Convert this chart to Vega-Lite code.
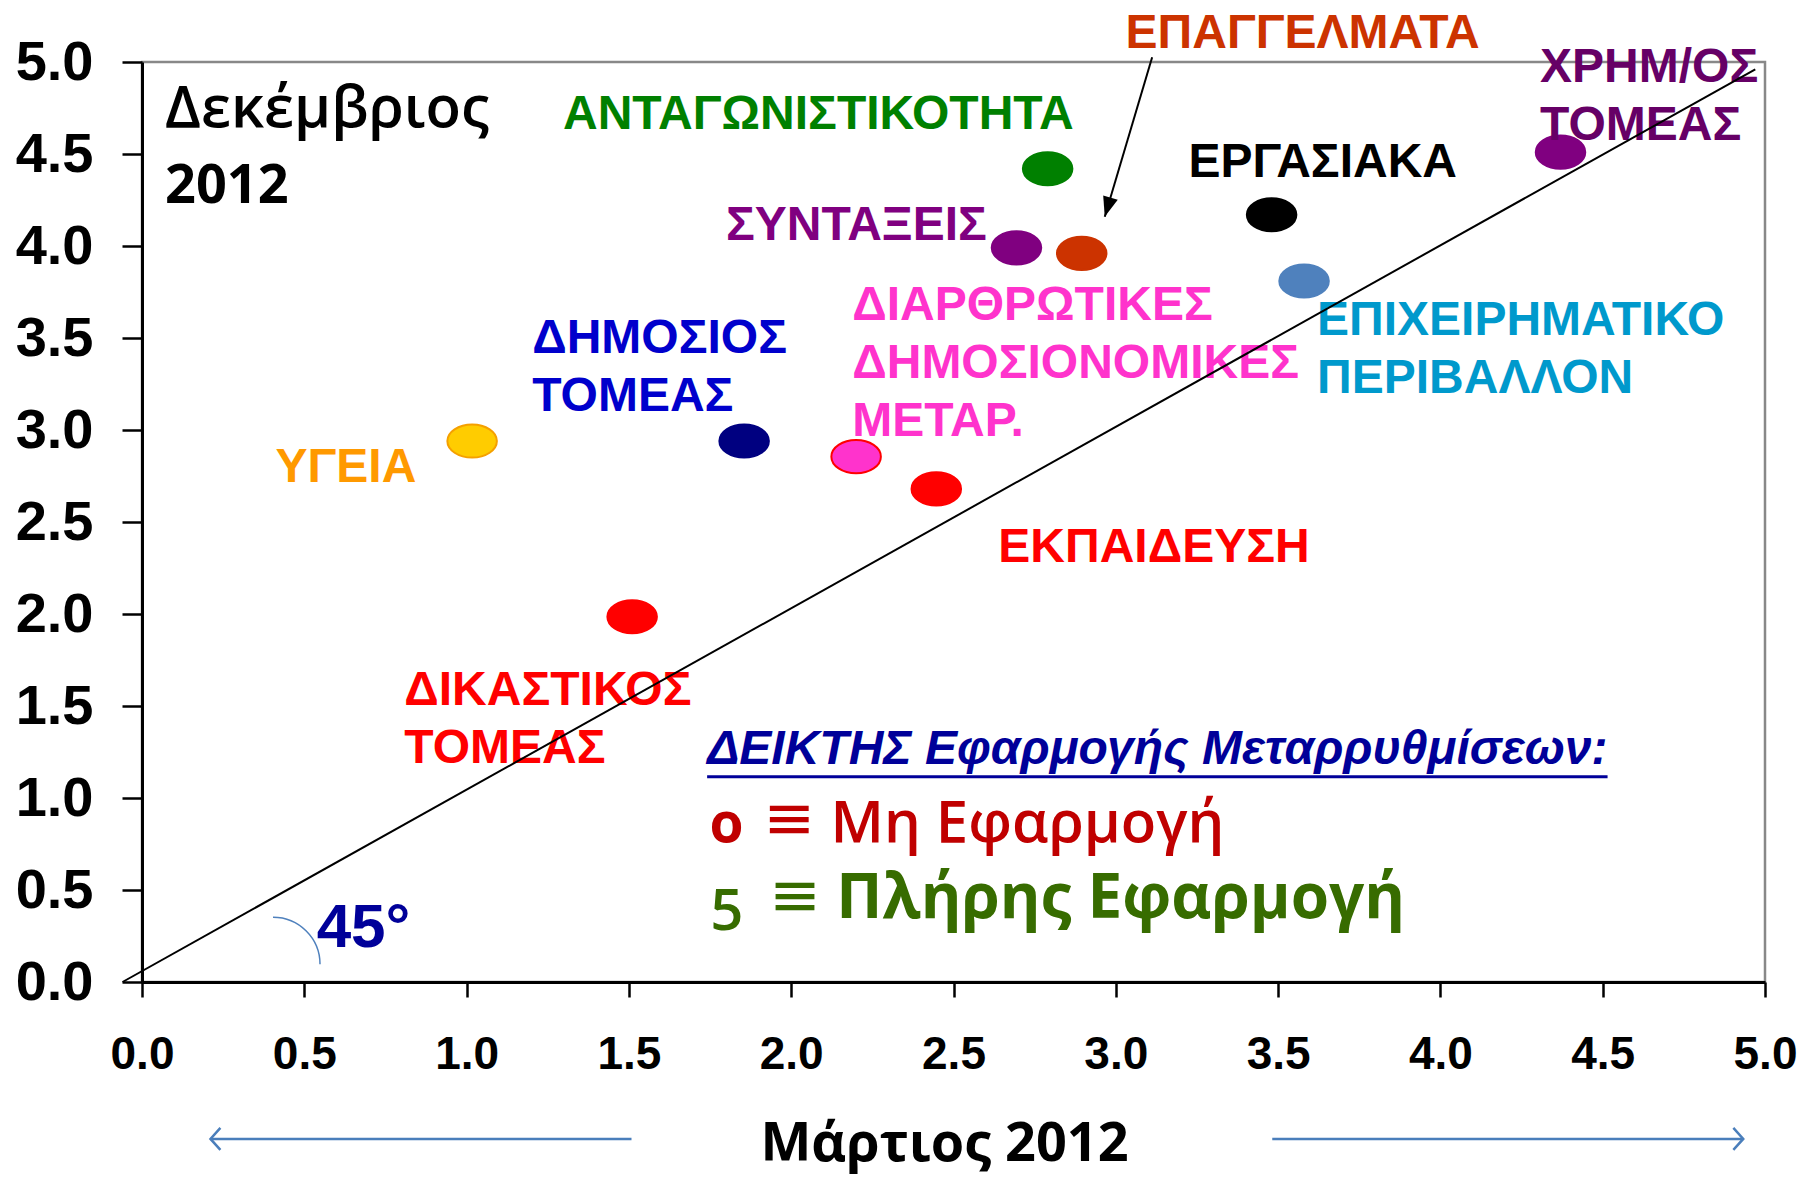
{
  "$schema": "https://vega.github.io/schema/vega-lite/v6.json",
  "width": 1623,
  "height": 920,
  "autosize": "none",
  "padding": {"left": 142, "top": 62, "right": 35, "bottom": 196},
  "background": "white",
  "datasets": {
    "pts": [
      {"name": "ΑΝΤΑΓΩΝΙΣΤΙΚΟΤΗΤΑ", "x": 2.79, "y": 4.42, "label": "ΑΝΤΑΓΩΝΙΣΤΙΚΟΤΗΤΑ", "lx": 1.297, "ly": 4.636},
      {"name": "ΕΠΑΓΓΕΛΜΑΤΑ", "x": 2.895, "y": 3.96, "label": "ΕΠΑΓΓΕΛΜΑΤΑ", "lx": 3.03, "ly": 5.075},
      {"name": "ΧΡΗΜ/ΟΣ ΤΟΜΕΑΣ", "x": 4.37, "y": 4.51, "label": "ΧΡΗΜ/ΟΣ\nΤΟΜΕΑΣ", "lx": 4.307, "ly": 4.893},
      {"name": "ΕΡΓΑΣΙΑΚΑ", "x": 3.48, "y": 4.17, "label": "ΕΡΓΑΣΙΑΚΑ", "lx": 3.224, "ly": 4.375},
      {"name": "ΣΥΝΤΑΞΕΙΣ", "x": 2.694, "y": 3.99, "label": "ΣΥΝΤΑΞΕΙΣ", "lx": 1.799, "ly": 4.033},
      {"name": "ΔΙΑΡΘΡΩΤΙΚΕΣ ΔΗΜΟΣΙΟΝΟΜΙΚΕΣ ΜΕΤΑΡ.", "x": 2.2, "y": 2.855, "label": "ΔΙΑΡΘΡΩΤΙΚΕΣ\nΔΗΜΟΣΙΟΝΟΜΙΚΕΣ\nΜΕΤΑΡ.", "lx": 2.188, "ly": 3.598},
      {"name": "ΕΠΙΧΕΙΡΗΜΑΤΙΚΟ ΠΕΡΙΒΑΛΛΟΝ", "x": 3.58, "y": 3.81, "label": "ΕΠΙΧΕΙΡΗΜΑΤΙΚΟ\nΠΕΡΙΒΑΛΛΟΝ", "lx": 3.62, "ly": 3.516},
      {"name": "ΔΗΜΟΣΙΟΣ ΤΟΜΕΑΣ", "x": 1.855, "y": 2.94, "label": "ΔΗΜΟΣΙΟΣ\nΤΟΜΕΑΣ", "lx": 1.202, "ly": 3.417},
      {"name": "ΥΓΕΙΑ", "x": 1.017, "y": 2.94, "label": "ΥΓΕΙΑ", "lx": 0.411, "ly": 2.719},
      {"name": "ΕΚΠΑΙΔΕΥΣΗ", "x": 2.447, "y": 2.68, "label": "ΕΚΠΑΙΔΕΥΣΗ", "lx": 2.638, "ly": 2.284},
      {"name": "ΔΙΚΑΣΤΙΚΟΣ ΤΟΜΕΑΣ", "x": 1.51, "y": 1.985, "label": "ΔΙΚΑΣΤΙΚΟΣ\nΤΟΜΕΑΣ", "lx": 0.808, "ly": 1.505}
    ]
  },
  "layer": [
    {
      "data": {"name": "pts"},
      "mark": {"type": "point", "shape": "M -1 0 A 1 0.67 0 1 1 1 0 A 1 0.67 0 1 1 -1 0 Z", "size": 2450, "filled": true, "strokeWidth": 2, "opacity": 1},
      "encoding": {
        "x": {"field": "x", "type": "quantitative", "scale": {"domain": [0, 5], "nice": false, "zero": false},
              "axis": {"values": [0, 0.5, 1, 1.5, 2, 2.5, 3, 3.5, 4, 4.5, 5], "format": ".1f", "title": "Μάρτιος 2012"}},
        "y": {"field": "y", "type": "quantitative", "scale": {"domain": [0, 5], "nice": false, "zero": false},
              "axis": {"values": [0, 0.5, 1, 1.5, 2, 2.5, 3, 3.5, 4, 4.5, 5], "format": ".1f", "title": null}},
        "fill": {"field": "name", "type": "nominal", "legend": null, "scale": {
          "domain": ["ΑΝΤΑΓΩΝΙΣΤΙΚΟΤΗΤΑ", "ΕΠΑΓΓΕΛΜΑΤΑ", "ΧΡΗΜ/ΟΣ ΤΟΜΕΑΣ", "ΕΡΓΑΣΙΑΚΑ", "ΣΥΝΤΑΞΕΙΣ", "ΔΙΑΡΘΡΩΤΙΚΕΣ ΔΗΜΟΣΙΟΝΟΜΙΚΕΣ ΜΕΤΑΡ.", "ΕΠΙΧΕΙΡΗΜΑΤΙΚΟ ΠΕΡΙΒΑΛΛΟΝ", "ΔΗΜΟΣΙΟΣ ΤΟΜΕΑΣ", "ΥΓΕΙΑ", "ΕΚΠΑΙΔΕΥΣΗ", "ΔΙΚΑΣΤΙΚΟΣ ΤΟΜΕΑΣ"],
          "range": ["#008000", "#CC3300", "#800080", "#000000", "#800080", "#FF33CC", "#4F81BD", "#000080", "#FFCC00", "#FF0000", "#FF0000"]}},
        "stroke": {"field": "name", "type": "nominal", "legend": null, "scale": {
          "domain": ["ΑΝΤΑΓΩΝΙΣΤΙΚΟΤΗΤΑ", "ΕΠΑΓΓΕΛΜΑΤΑ", "ΧΡΗΜ/ΟΣ ΤΟΜΕΑΣ", "ΕΡΓΑΣΙΑΚΑ", "ΣΥΝΤΑΞΕΙΣ", "ΔΙΑΡΘΡΩΤΙΚΕΣ ΔΗΜΟΣΙΟΝΟΜΙΚΕΣ ΜΕΤΑΡ.", "ΕΠΙΧΕΙΡΗΜΑΤΙΚΟ ΠΕΡΙΒΑΛΛΟΝ", "ΔΗΜΟΣΙΟΣ ΤΟΜΕΑΣ", "ΥΓΕΙΑ", "ΕΚΠΑΙΔΕΥΣΗ", "ΔΙΚΑΣΤΙΚΟΣ ΤΟΜΕΑΣ"],
          "range": ["#008000", "#CC3300", "#800080", "#000000", "#800080", "#FF0000", "#4F81BD", "#000080", "#F5A000", "#FF0000", "#FF0000"]}}
      }
    },
    {
      "data": {"name": "pts"},
      "mark": {"type": "text", "font": "Liberation Sans", "fontWeight": "bold", "fontSize": 48, "lineBreak": "\n", "lineHeight": 58, "align": "left", "baseline": "alphabetic"},
      "encoding": {
        "x": {"field": "lx", "type": "quantitative"},
        "y": {"field": "ly", "type": "quantitative"},
        "text": {"field": "label"},
        "color": {"field": "name", "type": "nominal", "legend": null, "scale": {
          "domain": ["ΑΝΤΑΓΩΝΙΣΤΙΚΟΤΗΤΑ", "ΕΠΑΓΓΕΛΜΑΤΑ", "ΧΡΗΜ/ΟΣ ΤΟΜΕΑΣ", "ΕΡΓΑΣΙΑΚΑ", "ΣΥΝΤΑΞΕΙΣ", "ΔΙΑΡΘΡΩΤΙΚΕΣ ΔΗΜΟΣΙΟΝΟΜΙΚΕΣ ΜΕΤΑΡ.", "ΕΠΙΧΕΙΡΗΜΑΤΙΚΟ ΠΕΡΙΒΑΛΛΟΝ", "ΔΗΜΟΣΙΟΣ ΤΟΜΕΑΣ", "ΥΓΕΙΑ", "ΕΚΠΑΙΔΕΥΣΗ", "ΔΙΚΑΣΤΙΚΟΣ ΤΟΜΕΑΣ"],
          "range": ["#008000", "#CC3300", "#660066", "#000000", "#800080", "#FF33CC", "#0099CC", "#0000CC", "#FF9900", "#FF0000", "#FF0000"]}}
      }
    },
    {
      "data": {"values": [{"t": "Δεκέμβριος", "x": 0.071, "y": 4.648}]},
      "mark": {"type": "text", "font": "Open Sans", "fontWeight": 600, "fontSize": 58, "align": "left", "baseline": "alphabetic", "color": "#000000"},
      "encoding": {"x": {"field": "x", "type": "quantitative"}, "y": {"field": "y", "type": "quantitative"}, "text": {"field": "t"}}
    },
    {
      "data": {"values": [{"t": "2012", "x": 0.071, "y": 4.232}]},
      "mark": {"type": "text", "font": "Open Sans", "fontWeight": "bold", "fontSize": 54, "align": "left", "baseline": "alphabetic", "color": "#000000"},
      "encoding": {"x": {"field": "x", "type": "quantitative"}, "y": {"field": "y", "type": "quantitative"}, "text": {"field": "t"}}
    },
    {
      "data": {"values": [{"t": "45°", "x": 0.538, "y": 0.192}]},
      "mark": {"type": "text", "font": "Liberation Sans", "fontWeight": "bold", "fontSize": 62, "align": "left", "baseline": "alphabetic", "color": "#000099"},
      "encoding": {"x": {"field": "x", "type": "quantitative"}, "y": {"field": "y", "type": "quantitative"}, "text": {"field": "t"}}
    },
    {
      "data": {"values": [{"t": "ΔΕΙΚΤΗΣ Εφαρμογής Μεταρρυθμίσεων:", "x": 1.741, "y": 1.185}]},
      "mark": {"type": "text", "font": "Liberation Sans", "fontWeight": "bold", "fontStyle": "italic", "fontSize": 48, "align": "left", "baseline": "alphabetic", "color": "#000099"},
      "encoding": {"x": {"field": "x", "type": "quantitative"}, "y": {"field": "y", "type": "quantitative"}, "text": {"field": "t"}}
    },
    {
      "data": {"values": [{"x": 1.741, "x2": 4.515, "y": 1.116}]},
      "mark": {"type": "rule", "color": "#000099", "strokeWidth": 3},
      "encoding": {"x": {"field": "x", "type": "quantitative"}, "x2": {"field": "x2"}, "y": {"field": "y", "type": "quantitative"}}
    },
    {
      "data": {"values": [{"t": "ο", "x": 1.748, "y": 0.7625}]},
      "mark": {"type": "text", "font": "Open Sans", "fontWeight": "bold", "fontSize": 55, "align": "left", "baseline": "alphabetic", "color": "#C00000"},
      "encoding": {"x": {"field": "x", "type": "quantitative"}, "y": {"field": "y", "type": "quantitative"}, "text": {"field": "t"}}
    },
    {
      "data": {"values": [{"t": "≡", "x": 1.995, "y": 0.88}]},
      "mark": {"type": "text", "font": "DejaVu Sans", "fontSize": 62, "align": "center", "baseline": "middle", "color": "#C00000"},
      "encoding": {"x": {"field": "x", "type": "quantitative"}, "y": {"field": "y", "type": "quantitative"}, "text": {"field": "t"}}
    },
    {
      "data": {"values": [{"t": "Μη Εφαρμογή", "x": 2.121, "y": 0.7625}]},
      "mark": {"type": "text", "font": "Open Sans", "fontWeight": 600, "fontSize": 58, "align": "left", "baseline": "alphabetic", "color": "#C00000"},
      "encoding": {"x": {"field": "x", "type": "quantitative"}, "y": {"field": "y", "type": "quantitative"}, "text": {"field": "t"}}
    },
    {
      "data": {"values": [{"t": "5", "x": 1.751, "y": 0.283}]},
      "mark": {"type": "text", "font": "Open Sans", "fontWeight": 600, "fontSize": 58, "align": "left", "baseline": "alphabetic", "color": "#376C00"},
      "encoding": {"x": {"field": "x", "type": "quantitative"}, "y": {"field": "y", "type": "quantitative"}, "text": {"field": "t"}}
    },
    {
      "data": {"values": [{"t": "≡", "x": 2.012, "y": 0.46}]},
      "mark": {"type": "text", "font": "DejaVu Sans", "fontSize": 62, "align": "center", "baseline": "middle", "color": "#376C00"},
      "encoding": {"x": {"field": "x", "type": "quantitative"}, "y": {"field": "y", "type": "quantitative"}, "text": {"field": "t"}}
    },
    {
      "data": {"values": [{"t": "Πλήρης Εφαρμογή", "x": 2.139, "y": 0.348}]},
      "mark": {"type": "text", "font": "Open Sans", "fontWeight": "bold", "fontSize": 62, "align": "left", "baseline": "alphabetic", "color": "#376C00"},
      "encoding": {"x": {"field": "x", "type": "quantitative"}, "y": {"field": "y", "type": "quantitative"}, "text": {"field": "t"}}
    },
    {
      "data": {"values": [{"x": -0.06, "y": 0}, {"x": 4.97, "y": 4.96}]},
      "mark": {"type": "line", "color": "#000000", "strokeWidth": 2},
      "encoding": {"x": {"field": "x", "type": "quantitative"}, "y": {"field": "y", "type": "quantitative"}}
    },
    {
      "data": {"values": [{"x": 3.112, "y": 5.026, "x2": 2.966, "y2": 4.159}]},
      "layer": [
        {
          "mark": {"type": "rule", "color": "#000000", "strokeWidth": 2},
          "encoding": {"x": {"field": "x", "type": "quantitative"}, "y": {"field": "y", "type": "quantitative"}, "x2": {"field": "x2"}, "y2": {"field": "y2"}}
        },
        {
          "mark": {"type": "point", "shape": "M 0 0 L -0.38 1 L 0.38 1 Z", "size": 1600, "filled": true, "color": "#000000", "opacity": 1, "angle": 196.6},
          "encoding": {"x": {"field": "x2", "type": "quantitative"}, "y": {"field": "y2", "type": "quantitative"}}
        }
      ]
    },
    {
      "data": {"values": [{"x": 0.211, "x2": 1.508, "y": -0.853, "dir": "left"}, {"x": 4.933, "x2": 3.482, "y": -0.853, "dir": "right"}]},
      "layer": [
        {
          "mark": {"type": "rule", "color": "#4A7EBB", "strokeWidth": 2.5},
          "encoding": {"x": {"field": "x", "type": "quantitative"}, "x2": {"field": "x2"}, "y": {"field": "y", "type": "quantitative"}}
        },
        {
          "mark": {"type": "point", "filled": false, "size": 484, "strokeWidth": 2.5, "color": "#4A7EBB", "opacity": 1},
          "encoding": {
            "x": {"field": "x", "type": "quantitative"},
            "y": {"field": "y", "type": "quantitative"},
            "shape": {"field": "dir", "type": "nominal", "legend": null, "scale": {"domain": ["left", "right"], "range": ["M 0.9 -1 L 0 0 L 0.9 1", "M -0.9 -1 L 0 0 L -0.9 1"]}}
          }
        }
      ]
    },
    {
      "data": {"values": [{"x": 0.476, "y": 0.224}]},
      "mark": {"type": "point", "shape": "M -1 -1 A 2 2 0 0 1 1 1", "filled": false, "size": 2209, "strokeWidth": 1.5, "color": "#4F81BD", "opacity": 1},
      "encoding": {"x": {"field": "x", "type": "quantitative"}, "y": {"field": "y", "type": "quantitative"}}
    }
  ],
  "resolve": {"scale": {"color": "independent"}},
  "config": {
    "view": {"stroke": "#888888", "strokeWidth": 2.5},
    "axisX": {
      "grid": false, "labelFont": "Liberation Sans", "labelFontSize": 46, "labelFontWeight": "bold", "labelColor": "#000000",
      "labelBaseline": "alphabetic", "labelPadding": 71, "labelFlush": false, "labelOverlap": false,
      "tickSize": 15, "tickWidth": 2.5, "tickColor": "#000000", "domainColor": "#000000", "domainWidth": 3,
      "titleFont": "Open Sans", "titleFontSize": 54, "titleFontWeight": "bold", "titleColor": "#000000",
      "titleBaseline": "alphabetic", "titleY": 178, "titleX": 802, "titleAlign": "center", "titleAnchor": "start"
    },
    "axisY": {
      "grid": false, "labelFont": "Liberation Sans", "labelFontSize": 56, "labelFontWeight": "bold", "labelColor": "#000000",
      "labelPadding": 29, "labelFlush": false, "labelOverlap": false,
      "tickSize": 20, "tickWidth": 2.5, "tickColor": "#000000", "domainColor": "#000000", "domainWidth": 3
    }
  }
}
